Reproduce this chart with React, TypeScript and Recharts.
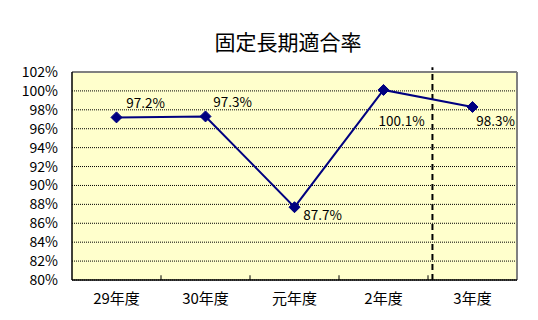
import React from 'react'
import {
  LineChart,
  Line,
  XAxis,
  YAxis,
  CartesianGrid,
  ReferenceLine,
  LabelList,
} from 'recharts'

// 年度別の固定長期適合率
const categories = ['29年度', '30年度', '元年度', '2年度', '3年度']
const ratios = [97.2, 97.3, 87.7, 100.1, 98.3]
const yTicks = [80, 82, 84, 86, 88, 90, 92, 94, 96, 98, 100, 102]

// label offsets relative to each point (dx, dy)
const LABEL_OFFSETS = [
  [29, -15],
  [27, -15],
  [28, 7],
  [18, 30],
  [23, 13],
]

const NAVY = '#000080'
const FONT = '"Noto Sans CJK JP", "Noto Sans", sans-serif'

const data = categories.map((name, i) => ({
  x: i + 0.5,
  name,
  ratio: ratios[i],
}))

const PointLabel = (props: any) => {
  const { x, y, value, index } = props
  const [dx, dy] = LABEL_OFFSETS[index] || [0, -12]
  return (
    <text
      x={x + dx}
      y={y + dy}
      textAnchor="middle"
      dominantBaseline="central"
      fontSize={13.5}
      fontFamily={FONT}
      fill="#000"
    >
      {value.toFixed(1)}%
    </text>
  )
}

const Diamond = (props: any) => {
  const { cx, cy } = props
  if (cx == null || cy == null) return null
  const r = 5.5
  return (
    <polygon
      points={`${cx},${cy - r} ${cx + r},${cy} ${cx},${cy + r} ${cx - r},${cy}`}
      fill={NAVY}
      stroke={NAVY}
    />
  )
}

export default function App() {
  return (
    <div style={{ position: 'absolute', left: 0, top: 0, width: 538, height: 320, background: '#fff' }}>
      <div
        style={{
          position: 'absolute',
          left: 0,
          width: 576,
          top: 27,
          textAlign: 'center',
          fontFamily: FONT,
          fontSize: 21,
          lineHeight: '28px',
          color: '#000',
        }}
      >
        固定長期適合率
      </div>
      <LineChart
        width={538}
        height={320}
        data={data}
        margin={{ top: 72, right: 21, left: 8, bottom: 10 }}
      >
        <CartesianGrid
          vertical={false}
          stroke="#000"
          strokeDasharray="1 1"
          fill="#FFFFCC"
          fillOpacity={1}
        />
        <XAxis
          dataKey="x"
          type="number"
          domain={[0, 5]}
          ticks={data.map(d => d.x)}
          interval={0}
          tickFormatter={(v: number) => categories[Math.floor(v)]}
          tickLine={false}
          tickSize={0}
          tickMargin={13}
          height={30}
          axisLine={{ stroke: '#000', strokeWidth: 1.5 }}
          tick={{ fill: '#000', fontSize: 15, fontFamily: FONT }}
        />
        <YAxis
          type="number"
          domain={[80, 102]}
          ticks={yTicks}
          interval={0}
          tickFormatter={(v: number) => `${v}%`}
          tickLine={false}
          tickSize={0}
          tickMargin={14}
          width={64}
          axisLine={{ stroke: '#000', strokeWidth: 1.5 }}
          tick={{ fill: '#000', fontSize: 14, fontFamily: FONT }}
        />
        {/* plot border (top / right) */}
        <ReferenceLine y={102} stroke="#808080" strokeWidth={2} />
        <ReferenceLine x={5} stroke="#808080" strokeWidth={2} />
        {/* inner tick marks between categories */}
        {[1, 2, 3, 4].map(t => (
          <ReferenceLine
            key={t}
            segment={[{ x: t, y: 80 }, { x: t, y: 80.5 }]}
            stroke="#000"
          />
        ))}
        {/* divider before 3年度 */}
        <ReferenceLine
          segment={[{ x: 4.05, y: 80 }, { x: 4.05, y: 102.5 }]}
          ifOverflow="visible"
          stroke="#000"
          strokeWidth={2}
          strokeDasharray="6 4"
        />
        <Line
          type="linear"
          dataKey="ratio"
          stroke={NAVY}
          strokeWidth={2}
          dot={<Diamond />}
          activeDot={false}
          isAnimationActive={false}
        >
          <LabelList dataKey="ratio" content={<PointLabel />} />
        </Line>
      </LineChart>
    </div>
  )
}
